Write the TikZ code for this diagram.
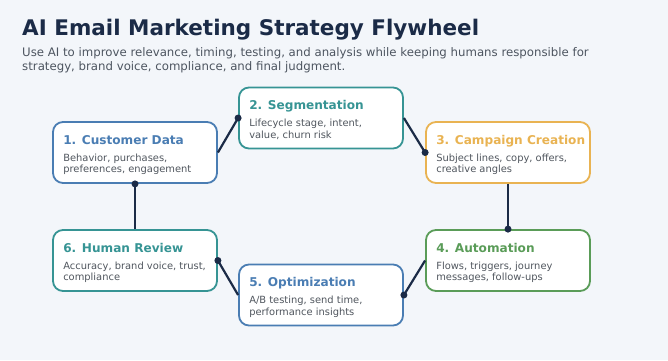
\documentclass[tikz,border=0pt]{standalone}
\usepackage{fontspec}
\setmainfont{DejaVu Sans}
\usetikzlibrary{positioning}
\definecolor{bg}{HTML}{F3F6FA}
\definecolor{ink}{HTML}{1B2B47}
\definecolor{subgray}{HTML}{4D5560}
\definecolor{bodygray}{HTML}{50565E}
\definecolor{cblue}{HTML}{4A7DB3}
\definecolor{cteal}{HTML}{369494}
\definecolor{corange}{HTML}{E9B352}
\definecolor{cgreen}{HTML}{5A9C58}
\begin{document}
\begin{tikzpicture}[x=1pt,y=-1pt,
  card/.style={draw=#1,fill=white,line width=1.8pt,rounded corners=10pt,
    minimum width=164pt,minimum height=61pt,inner sep=0pt},
  cardtitle/.style={font=\bfseries\fontsize{12.1}{15}\selectfont,anchor=base west,inner sep=0pt},
  cardtext/.style={font=\fontsize{9.9}{11.6}\selectfont,text=bodygray,align=left,
    anchor=north west,inner sep=0pt},
  link/.style={draw=ink,line width=2.2pt},
  dot/.style={circle,fill=ink,inner sep=0pt,minimum size=7pt}]
\useasboundingbox[fill=bg] (0,0) rectangle (668,360);

\node[anchor=base west,inner sep=0pt,text=ink,font=\bfseries\fontsize{21.5}{25}\selectfont]
  (title) at (22,35.5) {AI Email Marketing Strategy Flywheel};
\node[anchor=base west,inner sep=0pt,text=subgray,font=\fontsize{11.75}{14}\selectfont]
  (sub1) at (22,56) {Use AI to improve relevance, timing, testing, and analysis while keeping humans responsible for};
\node[anchor=base west,inner sep=0pt,text=subgray,font=\fontsize{11.75}{14}\selectfont]
  (sub2) at (22,70) {strategy, brand voice, compliance, and final judgment.};

% the six stages
\foreach \n/\x/\y/\col/\ttl/\body in {
    1/135/152.5/cblue/{1. Customer Data}/{Behavior, purchases,\\preferences, engagement},
    2/321/118/cteal/{2. Segmentation}/{Lifecycle stage, intent,\\value, churn risk},
    3/508/152.5/corange/{3. Campaign Creation}/{Subject lines, copy, offers,\\creative angles},
    4/508/260.5/cgreen/{4. Automation}/{Flows, triggers, journey\\messages, follow-ups},
    5/321/295/cblue/{5. Optimization}/{A/B testing, send time,\\performance insights},
    6/135/260.5/cteal/{6. Human Review}/{Accuracy, brand voice, trust,\\compliance}}{
  \node[card=\col] (c\n) at (\x,\y) {};
  \node[cardtitle,text=\col] (t\n) at ([xshift=11pt,yshift=-23pt]c\n.north west) {\ttl};
  \node[cardtext] (b\n) at ([xshift=11pt,yshift=-32.5pt]c\n.north west) {\body};
}

% flywheel links
\foreach \a/\b/\sa/\sb in {1/2/east/west,2/3/east/west,3/4/south/north,
                           4/5/west/east,5/6/west/east,6/1/north/south}{
  \draw[link] (c\a.\sa) -- (c\b.\sb) node[dot]{};
}
\end{tikzpicture}
\end{document}
